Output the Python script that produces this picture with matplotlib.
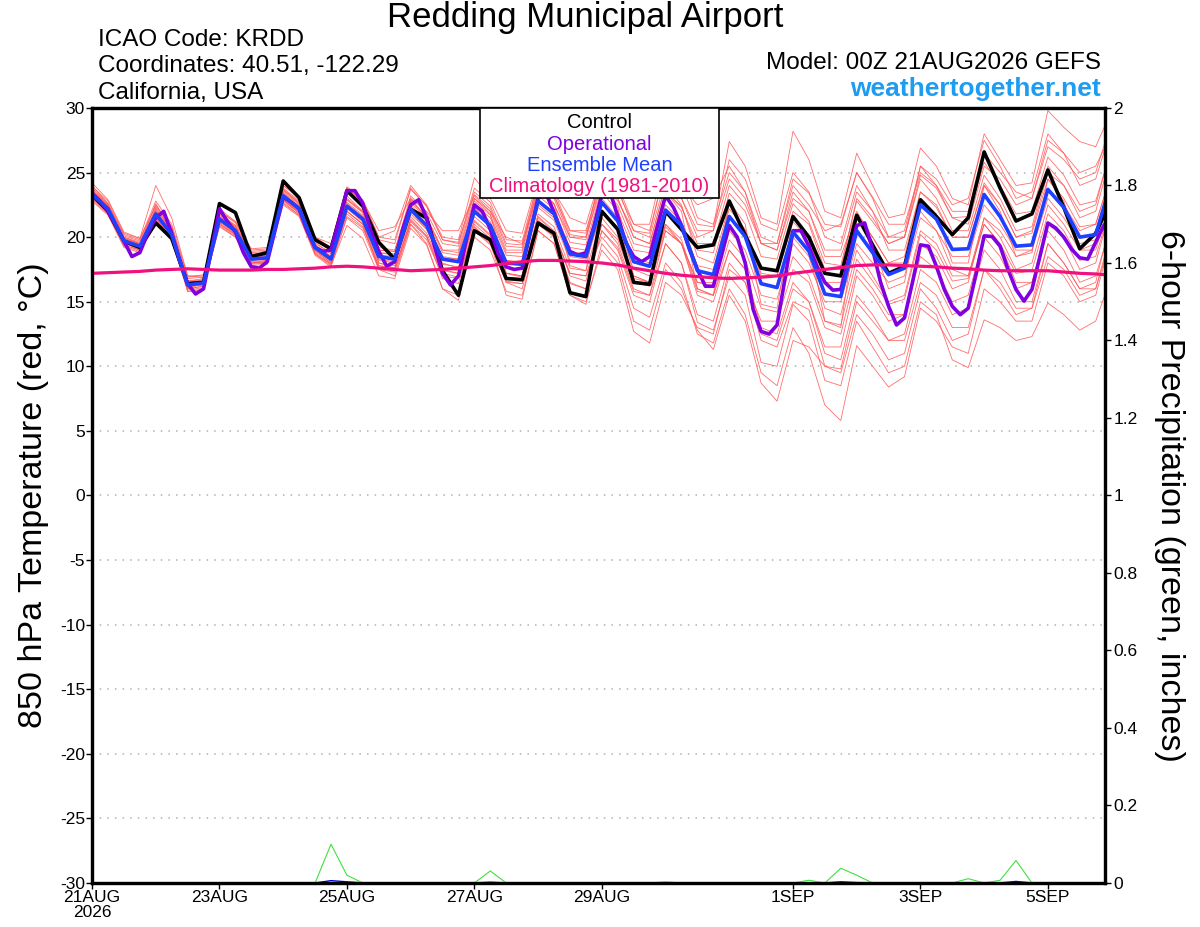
import numpy as np
import matplotlib
matplotlib.use("Agg")
from matplotlib import pyplot as plt
from matplotlib.patches import Rectangle

plt.rcParams['font.family'] = ['Liberation Sans', 'DejaVu Sans']
plt.rcParams['axes.unicode_minus'] = False

# forecast hours, 6-hourly (ensemble) and 3-hourly (operational run)
hours = np.arange(0, 385, 6)
hours_op = np.arange(0, 385, 3)

tick_hours = [0, 48, 96, 144, 192, 264, 312, 360]
tick_labels = ['21AUG\n2026', '23AUG', '25AUG', '27AUG', '29AUG', '1SEP', '3SEP', '5SEP']

temp_ticks = [30, 25, 20, 15, 10, 5, 0, -5, -10, -15, -20, -25, -30]
precip_ticks = [0, 0.2, 0.4, 0.6, 0.8, 1, 1.2, 1.4, 1.6, 1.8, 2]
precip_labels = ['0', '0.2', '0.4', '0.6', '0.8', '1', '1.2', '1.4', '1.6', '1.8', '2']

# 850 hPa temperature (C)
control = [23.3, 22.0, 19.7, 19.2, 21.1, 19.9, 16.4, 16.5, 22.6, 21.9, 18.5, 18.8, 24.35, 23.05, 19.8, 19.1,
           23.6, 22.4, 19.6, 18.3, 22.15, 21.5, 17.4, 15.5, 20.5, 19.8, 16.8, 16.7, 21.1, 20.3, 15.7, 15.4,
           22.0, 20.6, 16.5, 16.35, 22.0, 20.6, 19.2, 19.4, 22.8, 20.15, 17.6, 17.4, 21.6, 20.0, 17.2, 17.0,
           21.7, 19.4, 17.2, 17.75, 22.9, 21.6, 20.2, 21.5, 26.6, 23.8, 21.25, 21.8, 25.2, 22.3, 19.1, 20.3,
           22.9]

ens_mean = [23.3, 22.2, 19.7, 19.3, 21.8, 20.2, 16.3, 16.45, 21.4, 20.5, 18.3, 18.4, 23.2, 22.2, 19.2, 18.3,
            22.4, 21.4, 18.5, 18.3, 22.15, 20.9, 18.3, 18.1, 22.0, 20.9, 18.0, 17.9, 22.8, 21.8, 18.7, 18.5,
            22.7, 21.25, 18.1, 17.75, 22.1, 20.9, 17.4, 17.1, 21.6, 20.05, 16.4, 16.1, 20.4, 18.9, 15.6, 15.4,
            20.5, 18.8, 17.1, 17.6, 22.5, 21.4, 19.05, 19.1, 23.3, 21.6, 19.3, 19.4, 23.7, 22.3, 20.0, 20.2,
            24.35]

operational = [23.4, 22.8, 22.0, 20.9, 19.7, 18.5, 18.8, 20.3, 21.5, 22.0, 20.3, 18.2, 16.4, 15.6, 16.0, 19.0,
               22.2, 21.2, 20.4, 18.8, 17.7, 17.6, 18.1, 20.6, 23.1, 22.7, 22.2, 20.5, 19.2, 18.9, 19.0, 21.3,
               23.6, 23.6, 22.6, 20.5, 18.9, 17.75, 18.1, 20.6, 22.5, 22.9, 21.5, 19.3, 17.2, 16.3, 17.0, 19.8,
               22.5, 22.0, 20.6, 18.7, 17.7, 17.5, 17.6, 20.3, 23.0, 23.4, 21.9, 20.3, 18.9, 18.6, 18.8, 20.8,
               23.3, 23.6, 21.6, 19.6, 18.5, 18.1, 18.5, 20.9, 23.2, 22.3, 20.9, 19.05, 17.5, 16.2, 16.2, 18.5,
               20.9, 20.0, 18.0, 14.4, 12.7, 12.5, 13.2, 16.8, 20.5, 20.5, 19.3, 17.75, 16.5, 15.9, 15.95, 18.3,
               20.9, 21.1, 19.05, 16.5, 14.65, 13.2, 13.75, 16.5, 19.4, 19.3, 17.75, 15.95, 14.65, 14.0, 14.5, 17.2,
               20.1, 20.05, 19.3, 17.5, 15.95, 15.05, 15.95, 18.5, 21.1, 20.7, 20.0, 19.05, 18.4, 18.3, 19.6, 20.9,
               21.6]

climatology = [17.2, 17.25, 17.3, 17.35, 17.45, 17.5, 17.55, 17.5, 17.45, 17.45, 17.45, 17.5, 17.5, 17.55, 17.6, 17.7,
               17.75, 17.7, 17.6, 17.5, 17.4, 17.45, 17.5, 17.6, 17.7, 17.8, 17.95, 18.1, 18.2, 18.2, 18.15, 18.1,
               18.0, 17.85, 17.6, 17.4, 17.2, 17.05, 16.95, 16.85, 16.8, 16.85, 16.9, 17.0, 17.2, 17.35, 17.5, 17.65,
               17.8, 17.85, 17.85, 17.8, 17.75, 17.7, 17.6, 17.55, 17.45, 17.4, 17.4, 17.4, 17.4, 17.3, 17.2, 17.15,
               17.05]

# perturbed members
m01 = [23.9, 22.8, 20.3, 19.9, 22.4, 20.8, 16.9, 17.1, 22.0, 21.1, 18.9, 19.0, 23.8, 22.8, 19.8, 18.9,
       23.9, 22.9, 20.0, 19.8, 23.7, 22.4, 19.8, 19.6, 23.5, 22.4, 19.5, 19.4, 24.3, 23.3, 20.2, 20.0,
       25.0, 23.8, 20.5, 20.3, 25.4, 24.0, 21.0, 20.8, 27.4, 25.5, 21.5, 21.0, 28.2, 26.0, 22.0, 21.5,
       26.5, 24.0, 21.5, 21.8, 26.9, 25.5, 23.0, 22.5, 28.0, 26.0, 24.0, 24.2, 29.8, 28.5, 27.4, 27.0, 29.8]
m02 = [22.8, 21.7, 19.2, 18.8, 21.3, 19.7, 15.8, 16.0, 20.9, 20.0, 17.8, 17.9, 22.7, 21.7, 18.7, 17.8,
       20.9, 19.9, 17.0, 16.8, 20.7, 19.4, 16.0, 15.1, 20.5, 19.4, 16.5, 16.4, 21.3, 20.3, 17.2, 17.0,
       20.0, 18.5, 14.5, 13.8, 18.0, 16.5, 12.5, 11.8, 16.0, 14.0, 9.5, 8.5, 13.0, 11.0, 7.0, 5.8,
       11.6, 10.0, 8.4, 9.2, 14.5, 13.5, 11.5, 11.0, 16.0, 15.0, 13.5, 13.5, 18.0, 17.0, 15.0, 15.5, 20.0]
m03 = [23.5, 22.4, 19.9, 19.5, 22.0, 20.4, 16.5, 16.7, 21.6, 20.7, 18.5, 18.6, 23.4, 22.4, 19.4, 18.5,
       22.0, 21.0, 17.5, 17.0, 21.0, 19.5, 16.0, 15.5, 20.0, 19.0, 15.8, 15.5, 20.5, 19.5, 15.5, 14.8,
       19.5, 18.0, 13.5, 12.8, 17.5, 16.0, 12.8, 11.3, 15.5, 13.5, 8.7, 7.3, 12.0, 11.5, 10.0, 9.5,
       14.0, 12.5, 10.5, 11.0, 16.0, 14.5, 12.0, 12.5, 17.5, 16.0, 14.0, 14.5, 19.5, 18.0, 16.0, 16.5, 21.5]
m04 = [24.2, 22.9, 20.4, 19.9, 24.0, 21.5, 17.0, 16.9, 22.2, 21.2, 19.0, 19.1, 24.0, 23.1, 20.0, 19.2,
       23.8, 22.8, 20.0, 20.5, 24.0, 22.5, 20.0, 19.8, 24.6, 23.0, 20.5, 20.3, 24.6, 23.5, 21.5, 21.0,
       25.0, 23.5, 21.0, 20.5, 25.4, 24.0, 22.5, 23.0, 25.5, 23.5, 20.0, 19.5, 24.0, 22.5, 20.5, 21.0,
       25.0, 23.0, 20.0, 20.5, 25.5, 24.0, 22.0, 22.0, 26.5, 25.0, 23.5, 23.0, 27.5, 26.5, 25.0, 25.5, 28.0]
m05 = [23.0, 21.9, 19.4, 19.0, 21.2, 19.8, 16.0, 16.2, 20.8, 20.0, 17.9, 18.0, 22.5, 21.6, 18.6, 17.7,
       21.5, 20.5, 17.5, 17.3, 21.0, 19.8, 17.0, 16.8, 20.8, 19.6, 16.5, 16.0, 21.0, 20.0, 16.5, 16.0,
       20.5, 19.0, 15.5, 15.0, 19.5, 18.0, 14.0, 13.5, 18.0, 16.5, 12.0, 11.5, 15.0, 14.4, 10.0, 9.8,
       15.0, 13.5, 12.0, 12.5, 17.5, 16.5, 14.0, 14.5, 19.0, 17.5, 15.0, 15.0, 19.5, 18.0, 16.0, 16.0, 20.5]
m06 = [23.6, 22.5, 20.0, 19.6, 22.2, 20.6, 16.8, 16.9, 21.9, 20.9, 18.7, 18.8, 23.6, 22.6, 19.6, 18.7,
       22.9, 21.9, 19.0, 18.9, 22.9, 21.5, 19.0, 18.8, 22.8, 21.7, 18.8, 18.8, 23.6, 22.6, 19.6, 19.4,
       23.8, 22.5, 19.5, 19.2, 23.5, 22.4, 19.0, 18.8, 23.4, 22.0, 18.5, 18.3, 22.6, 21.2, 18.0, 17.8,
       22.8, 21.2, 19.5, 20.0, 24.8, 23.8, 21.5, 21.6, 25.8, 24.0, 21.8, 22.0, 26.2, 24.8, 22.5, 22.8, 26.8]
m07 = [23.0, 22.0, 19.5, 19.1, 21.5, 19.9, 16.0, 16.2, 21.0, 20.2, 18.0, 18.1, 22.8, 21.9, 18.9, 18.0,
       22.0, 21.0, 18.0, 17.8, 21.6, 20.3, 17.6, 17.4, 21.2, 20.1, 17.2, 17.0, 21.8, 20.8, 17.6, 17.4,
       21.5, 20.0, 16.8, 16.5, 20.8, 19.5, 15.8, 15.5, 19.8, 18.3, 14.5, 14.2, 18.5, 17.0, 13.5, 13.2,
       18.3, 16.6, 14.8, 15.2, 20.2, 19.0, 16.6, 16.8, 21.0, 19.5, 17.2, 17.4, 21.8, 20.5, 18.2, 18.5, 22.6]
m08 = [23.4, 22.3, 19.9, 19.4, 22.6, 20.4, 16.2, 16.4, 21.3, 20.4, 18.2, 18.3, 23.3, 22.4, 19.4, 18.5,
       22.9, 21.9, 19.0, 18.9, 23.2, 21.9, 19.5, 19.3, 23.3, 22.2, 19.3, 19.2, 24.0, 23.0, 20.0, 19.8,
       24.5, 23.0, 20.0, 19.5, 24.0, 22.5, 18.5, 18.0, 22.5, 20.5, 16.5, 16.0, 20.0, 18.5, 14.5, 14.0,
       19.0, 17.0, 15.0, 15.5, 20.5, 19.5, 17.0, 17.0, 21.5, 20.0, 17.5, 18.0, 22.5, 21.0, 19.0, 19.0, 23.0]
m09 = [23.2, 22.1, 19.6, 19.2, 21.6, 20.1, 16.4, 16.6, 21.2, 20.3, 18.3, 18.5, 22.9, 21.9, 19.0, 18.1,
       21.8, 20.8, 17.8, 17.5, 21.2, 20.0, 17.2, 16.9, 20.6, 19.5, 16.6, 16.4, 21.0, 20.1, 16.4, 16.0,
       20.5, 19.2, 15.8, 15.5, 20.5, 19.5, 16.5, 16.5, 21.5, 20.5, 17.0, 17.0, 22.0, 21.0, 17.5, 17.5,
       23.0, 21.5, 19.5, 20.0, 25.5, 24.5, 22.5, 23.0, 27.5, 25.5, 23.0, 23.5, 28.0, 26.5, 24.0, 24.5, 28.5]
m10 = [23.7, 22.5, 19.6, 19.0, 22.3, 20.5, 15.8, 15.9, 21.8, 20.8, 18.0, 18.0, 23.7, 22.6, 19.0, 18.0,
       23.2, 22.0, 18.0, 17.6, 23.0, 21.5, 17.5, 17.2, 23.0, 21.8, 17.2, 17.0, 23.8, 22.6, 17.8, 17.4,
       24.0, 22.3, 17.0, 16.5, 23.5, 22.0, 16.0, 15.5, 22.8, 21.0, 14.8, 14.5, 21.5, 19.8, 13.5, 13.0,
       21.5, 19.5, 16.0, 16.5, 23.0, 21.8, 18.0, 18.0, 24.0, 22.0, 18.5, 18.8, 24.5, 22.8, 19.0, 19.5, 25.5]
m11 = [23.1, 22.0, 19.5, 19.2, 21.9, 20.0, 16.1, 16.3, 21.1, 20.2, 18.1, 18.2, 22.9, 22.0, 19.0, 18.2,
       22.2, 21.2, 18.3, 18.1, 22.0, 20.6, 18.0, 17.6, 21.3, 20.2, 17.2, 16.9, 21.6, 20.5, 17.0, 16.6,
       21.0, 19.5, 16.0, 15.5, 19.5, 18.0, 13.4, 12.8, 17.0, 15.5, 10.3, 10.0, 14.8, 13.5, 8.9, 8.5,
       13.5, 11.5, 9.5, 10.0, 15.0, 14.0, 10.5, 9.9, 13.6, 13.0, 12.0, 12.3, 14.9, 14.0, 12.8, 13.5, 17.0]
m12 = [23.8, 22.6, 20.1, 19.7, 22.5, 20.8, 16.6, 16.8, 21.7, 20.9, 18.8, 18.9, 23.7, 22.7, 19.8, 19.0,
       23.5, 22.5, 19.8, 19.5, 23.8, 22.4, 19.8, 19.5, 23.8, 22.7, 19.8, 19.7, 24.4, 23.6, 20.5, 20.3,
       25.0, 24.0, 21.0, 21.0, 26.3, 25.0, 21.5, 21.0, 25.0, 23.5, 19.5, 19.0, 23.0, 22.0, 18.5, 18.5,
       22.0, 20.0, 18.0, 18.0, 22.0, 20.5, 17.5, 17.0, 21.0, 19.5, 16.5, 16.5, 20.5, 19.0, 16.5, 17.0, 21.0]
m13 = [23.3, 22.3, 19.8, 19.4, 21.8, 20.3, 16.6, 16.7, 21.5, 20.5, 18.4, 18.6, 23.1, 22.1, 19.1, 18.3,
       22.5, 21.5, 18.8, 18.6, 22.5, 21.2, 18.5, 18.3, 22.2, 21.0, 18.2, 18.1, 22.5, 21.5, 18.5, 18.3,
       22.0, 20.5, 17.0, 16.5, 21.0, 19.5, 15.5, 15.0, 19.0, 17.5, 12.5, 12.0, 16.0, 15.0, 11.5, 11.5,
       17.0, 15.5, 13.5, 14.0, 19.5, 18.5, 16.0, 16.5, 21.5, 20.5, 18.5, 19.0, 23.5, 22.5, 20.5, 21.0, 25.0]
m14 = [23.5, 22.3, 19.9, 19.5, 22.1, 20.4, 16.4, 16.6, 21.5, 20.6, 18.5, 18.6, 23.4, 22.3, 19.3, 18.5,
       22.7, 21.7, 18.8, 18.7, 22.7, 21.4, 18.8, 18.6, 22.5, 21.5, 18.6, 18.5, 23.2, 22.2, 19.2, 19.0,
       23.5, 22.0, 19.0, 18.8, 23.5, 22.3, 19.5, 19.5, 24.0, 22.5, 19.5, 19.5, 24.5, 23.4, 21.0, 20.8,
       25.0, 23.1, 21.0, 21.0, 25.0, 24.0, 21.5, 21.0, 25.5, 24.5, 22.5, 23.0, 27.0, 26.0, 24.5, 25.0, 29.0]
m15 = [22.9, 21.8, 19.3, 18.9, 21.4, 19.9, 16.2, 16.4, 21.0, 20.1, 18.0, 18.2, 22.6, 21.7, 18.7, 17.9,
       21.6, 20.7, 17.8, 17.6, 21.3, 20.1, 17.4, 17.2, 21.0, 19.9, 16.9, 16.8, 21.5, 20.4, 17.2, 17.0,
       21.0, 19.8, 16.5, 16.2, 20.5, 19.5, 16.5, 16.2, 20.5, 19.0, 15.5, 15.2, 19.5, 18.0, 15.0, 15.0,
       19.5, 18.0, 16.5, 17.0, 21.5, 20.5, 18.5, 18.5, 22.5, 21.0, 19.0, 19.0, 23.0, 21.5, 19.5, 19.8, 23.5]
m16 = [24.0, 22.6, 20.2, 19.8, 22.8, 21.0, 17.0, 17.0, 22.0, 21.2, 19.1, 19.2, 24.0, 23.0, 20.0, 19.5,
       23.8, 22.8, 20.5, 20.8, 23.0, 22.0, 20.5, 20.5, 23.2, 22.0, 20.0, 19.5, 23.5, 22.5, 20.0, 20.0,
       24.0, 22.8, 20.5, 20.0, 24.5, 23.0, 20.5, 20.5, 24.5, 23.0, 19.5, 19.0, 23.5, 22.0, 19.0, 19.0,
       23.5, 22.0, 20.0, 20.0, 24.5, 23.0, 20.5, 20.5, 24.8, 23.0, 20.5, 20.8, 25.5, 24.0, 21.5, 22.0, 26.5]
m17 = [23.2, 22.0, 19.4, 19.0, 21.5, 19.9, 15.9, 16.1, 21.2, 20.3, 18.0, 18.1, 22.9, 21.8, 18.8, 17.9,
       22.0, 21.0, 17.6, 17.4, 21.4, 20.1, 16.8, 16.4, 20.8, 19.6, 15.5, 15.2, 20.5, 19.5, 15.5, 15.0,
       19.0, 17.5, 12.7, 11.8, 16.5, 15.5, 13.0, 12.5, 17.5, 16.5, 13.5, 13.5, 17.5, 16.5, 13.0, 12.5,
       17.5, 16.0, 14.0, 14.0, 18.5, 17.5, 15.0, 15.5, 20.0, 18.5, 16.0, 16.5, 21.0, 20.0, 17.5, 18.0, 22.5]
m18 = [23.4, 22.4, 20.0, 19.5, 22.0, 20.5, 16.5, 16.6, 21.6, 20.8, 18.6, 18.7, 23.5, 22.5, 19.5, 18.8,
       23.0, 22.0, 19.2, 19.0, 22.8, 21.6, 19.0, 19.0, 23.0, 22.0, 19.0, 19.0, 24.0, 23.2, 20.5, 20.5,
       24.5, 23.0, 20.0, 19.5, 24.0, 23.0, 20.0, 20.5, 26.0, 24.5, 21.0, 20.5, 25.0, 23.5, 20.0, 19.5,
       24.0, 22.0, 19.0, 19.0, 23.5, 22.5, 20.0, 20.0, 24.0, 22.5, 20.0, 20.5, 25.0, 24.0, 22.0, 22.5, 27.0]
m19 = [23.1, 22.1, 19.7, 19.3, 21.7, 20.1, 16.3, 16.5, 21.3, 20.4, 18.3, 18.3, 23.0, 22.0, 19.1, 18.2,
       22.3, 21.2, 18.2, 18.0, 21.8, 20.6, 17.9, 17.7, 21.6, 20.5, 17.6, 17.5, 22.3, 21.3, 18.2, 18.0,
       22.0, 20.8, 17.5, 17.0, 21.0, 19.8, 16.0, 15.5, 19.0, 17.5, 13.0, 12.5, 16.5, 15.0, 11.0, 10.5,
       15.5, 14.0, 12.0, 12.0, 16.5, 15.5, 13.0, 13.0, 17.5, 16.5, 14.5, 14.5, 18.5, 17.5, 15.5, 16.0, 20.0]
m20 = [23.6, 22.4, 19.8, 19.3, 21.9, 20.3, 16.2, 16.3, 21.5, 20.6, 18.4, 18.5, 23.2, 22.2, 19.2, 18.4,
       22.6, 21.6, 18.6, 18.5, 22.4, 21.0, 18.4, 18.3, 22.3, 21.2, 18.2, 18.0, 22.9, 21.9, 18.9, 18.7,
       23.0, 21.5, 18.4, 18.0, 22.5, 21.2, 17.8, 17.5, 22.2, 20.6, 17.2, 17.0, 21.2, 19.8, 16.5, 16.5,
       21.5, 20.0, 18.0, 18.5, 23.5, 22.3, 20.0, 20.0, 24.2, 22.5, 20.0, 20.3, 24.5, 23.0, 20.8, 21.0, 25.0]
members = [m01, m02, m03, m04, m05, m06, m07, m08, m09, m10,
           m11, m12, m13, m14, m15, m16, m17, m18, m19, m20]

# 6-hour precipitation (inches)
precip_green = [0, 0, 0, 0, 0, 0, 0, 0, 0, 0, 0, 0, 0, 0, 0, 0.1,
                0.02, 0, 0, 0, 0, 0, 0, 0, 0, 0.031, 0, 0, 0, 0, 0, 0,
                0, 0, 0, 0, 0.003, 0, 0, 0, 0, 0, 0, 0, 0, 0.007, 0, 0.038,
                0.02, 0, 0, 0, 0, 0, 0, 0.011, 0, 0.007, 0.058, 0, 0, 0, 0, 0,
                0]
precip_blue = [0, 0, 0, 0, 0, 0, 0, 0, 0, 0, 0, 0, 0, 0, 0, 0.006,
               0.003, 0, 0, 0, 0, 0, 0, 0, 0, 0.002, 0, 0, 0, 0, 0, 0,
               0, 0, 0, 0, 0, 0, 0, 0, 0, 0, 0, 0, 0, 0, 0, 0.003,
               0.001, 0, 0, 0, 0, 0, 0, 0, 0, 0, 0.004, 0, 0, 0, 0, 0,
               0]

fig = plt.figure(figsize=(12, 9.27), dpi=100)
ax = fig.add_axes([0.0767, 0.0475, 0.8441, 0.836])

for m in members:
    ax.plot(hours, m, color='#ff5555', lw=0.6, alpha=0.85, zorder=2)
ax.plot(hours, control, color='black', lw=2.6, zorder=4)
ax.plot(hours_op, operational, color='#8000e0', lw=2.6, zorder=5)
ax.plot(hours, ens_mean, color='#2040ff', lw=2.6, zorder=6)
ax.plot(hours, climatology, color='#f0107f', lw=2.3, zorder=7)

ax.set_xlim(0, 381.5)
ax.set_ylim(-30, 30)
ax.set_yticks(temp_ticks)
ax.set_yticklabels([str(t) for t in temp_ticks])
ax.set_xticks(tick_hours)
ax.set_xticklabels(tick_labels, linespacing=1.0)
for t in temp_ticks[1:-1]:
    ax.axhline(t, color='#b0b0b0', lw=1.1, ls=(0, (1, 4)), zorder=1)
ax.tick_params(axis='both', labelsize=12.5, length=4, width=1, pad=1)
ax.set_ylabel('850 hPa Temperature (red, °C)', fontsize=24.5, labelpad=8)

ax2 = ax.twinx()
ax2.plot(hours, precip_green, color='#40e040', lw=0.8)
ax2.plot(hours, precip_blue, color='#0000cc', lw=1.0)
ax2.set_ylim(0, 2)
ax2.set_xlim(0, 381.5)
ax2.set_yticks(precip_ticks)
ax2.set_yticklabels(precip_labels)
ax2.tick_params(axis='y', labelsize=12.5, length=4, width=1, pad=2)
ax2.set_ylabel('6-hour Precipitation (green, inches)', fontsize=24.5, rotation=-90, labelpad=34)

for a in (ax, ax2):
    for s in a.spines.values():
        s.set_linewidth(2.3)

# legend box with coloured text
ax2.add_patch(Rectangle((0.383, 0.884), 0.236, 0.116, transform=ax2.transAxes,
                        facecolor='white', edgecolor='black', lw=1.2, zorder=10, clip_on=False))
leg_items = [('Control', 'black'), ('Operational', '#8000e0'),
             ('Ensemble Mean', '#2040ff'), ('Climatology (1981-2010)', '#f0107f')]
for k, (txt, col) in enumerate(leg_items):
    ax2.text(0.501, 0.981 - k * 0.0275, txt, color=col, fontsize=14.5, ha='center', va='center',
             transform=ax2.transAxes, zorder=11)

fig.text(0.488, 0.9806, 'Redding Municipal Airport', fontsize=25, ha='center', va='center')
fig.text(0.0817, 0.9568, 'ICAO Code: KRDD', fontsize=17.5, ha='left', va='center')
fig.text(0.0817, 0.9288, 'Coordinates: 40.51, -122.29', fontsize=17.5, ha='left', va='center')
fig.text(0.0817, 0.8997, 'California, USA', fontsize=17.5, ha='left', va='center')
fig.text(0.9175, 0.932, 'Model: 00Z 21AUG2026 GEFS', fontsize=17.5, ha='right', va='center')
fig.text(0.9175, 0.904, 'weathertogether.net', fontsize=19, fontweight='bold', color='#1e9cf0',
         ha='right', va='center')

fig.savefig('out.png', dpi=100)
